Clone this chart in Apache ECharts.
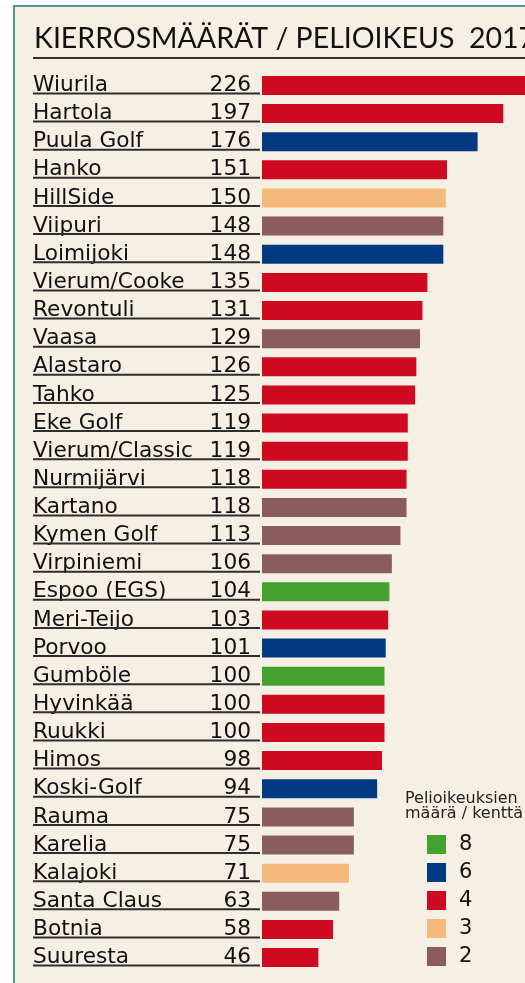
<!DOCTYPE html>
<html>
<head>
<meta charset="utf-8">
<script src="https://cdn.jsdelivr.net/npm/echarts@6/dist/echarts.min.js"></script>
<style>
html,body{margin:0;padding:0;background:#ffffff;}
#c{width:525px;height:983px;}
</style>
</head>
<body>
<div id="c"></div>
<script>
const courses = ["Wiurila","Hartola","Puula Golf","Hanko","HillSide","Viipuri","Loimijoki","Vierum/Cooke","Revontuli","Vaasa","Alastaro","Tahko","Eke Golf","Vierum/Classic","Nurmijärvi","Kartano","Kymen Golf","Virpiniemi","Espoo (EGS)","Meri-Teijo","Porvoo","Gumböle","Hyvinkää","Ruukki","Himos","Koski-Golf","Rauma","Karelia","Kalajoki","Santa Claus","Botnia","Suuresta"];
const rounds = [226,197,176,151,150,148,148,135,131,129,126,125,119,119,118,118,113,106,104,103,101,100,100,100,98,94,75,75,71,63,58,46];
const rights = [4,4,6,4,3,2,6,4,4,2,4,4,4,4,4,2,2,2,8,4,6,8,4,4,4,6,2,2,3,2,4,4];
const rightGroups = ["8","6","4","3","2"];
const groupColors = {"8":"#45a22f","6":"#013a80","4":"#cd0a1f","3":"#f5b97b","2":"#8a5c60"};
const legendTitle = "Pelioikeuksien\nmäärä / kenttä";
const chartTitle = "KIERROSMÄÄRÄT / PELIOIKEUS  2017";

const labelFont = "DejaVu Sans";
const chart = echarts.init(document.getElementById('c'), null, {renderer:'canvas'});

const barSeries = rightGroups.map(g => ({
  name: g,
  type: 'bar',
  barWidth: 19,
  barGap: '-100%',
  itemStyle: {color: groupColors[g]},
  data: rounds.map((v,i) => String(rights[i]) === g ? v : null),
  z: 3
}));

const underline = {
  type: 'custom',
  silent: true,
  clip: false,
  data: courses.map((c,i) => [0, i]),
  encode: {x: 0, y: 1},
  renderItem: function(params, api){
    const p = api.coord([0, api.value(1)]);
    return {
      type: 'line',
      shape: {x1: 33, y1: p[1] + 8, x2: 260, y2: p[1] + 8},
      style: {stroke: '#2e2e2e', lineWidth: 2}
    };
  },
  z: 2
};

chart.setOption({
  backgroundColor: '#ffffff',
  animation: false,
  graphic: [
    {type:'rect', shape:{x:14, y:6, width:600, height:1100}, style:{fill:'#f6efe4', stroke:'#4a9b8c', lineWidth:2}, z:-10},
    {type:'text', left: 34, top: 24, style:{text: chartTitle, font: 'normal 28.5px Lato', fill:'#111111'}, z:5},
    {type:'line', shape:{x1:33, y1:58, x2:600, y2:58}, style:{stroke:'#333333', lineWidth:2}, z:5},
    {type:'text', left: 405, top: 791, style:{text: legendTitle, font: 'normal 16px "DejaVu Sans"', lineHeight: 15, fill:'#222222'}, z:5}
  ],
  grid: {left: 262, top: 71.4, width: 367.5, height: 900.2, containLabel: false, outerBoundsMode: 'none'},
  xAxis: {type:'value', min:0, max:300, show:false},
  yAxis: {
    type:'category', inverse:true, data: courses,
    axisLine:{show:false}, axisTick:{show:false}, splitLine:{show:false},
    axisLabel:{
      align:'left', margin:229,
      formatter: function(v, i){ return '{n|' + v + '}{v|' + rounds[i] + '}'; },
      rich:{
        n:{width:178, align:'left', fontFamily:labelFont, fontSize:21.7, color:'#111111'},
        v:{width:40, align:'right', fontFamily:labelFont, fontSize:21.7, color:'#111111'}
      }
    }
  },
  legend: {
    data: rightGroups, orient:'vertical', left: 427, top: 834, padding: 0,
    itemWidth:19, itemHeight:19, itemGap:7, icon:'rect',
    selectedMode:false,
    textStyle:{fontFamily:labelFont, fontSize:21, color:'#111111', padding:[0,0,0,8]}
  },
  series: barSeries.concat([underline])
});
</script>
</body>
</html>
